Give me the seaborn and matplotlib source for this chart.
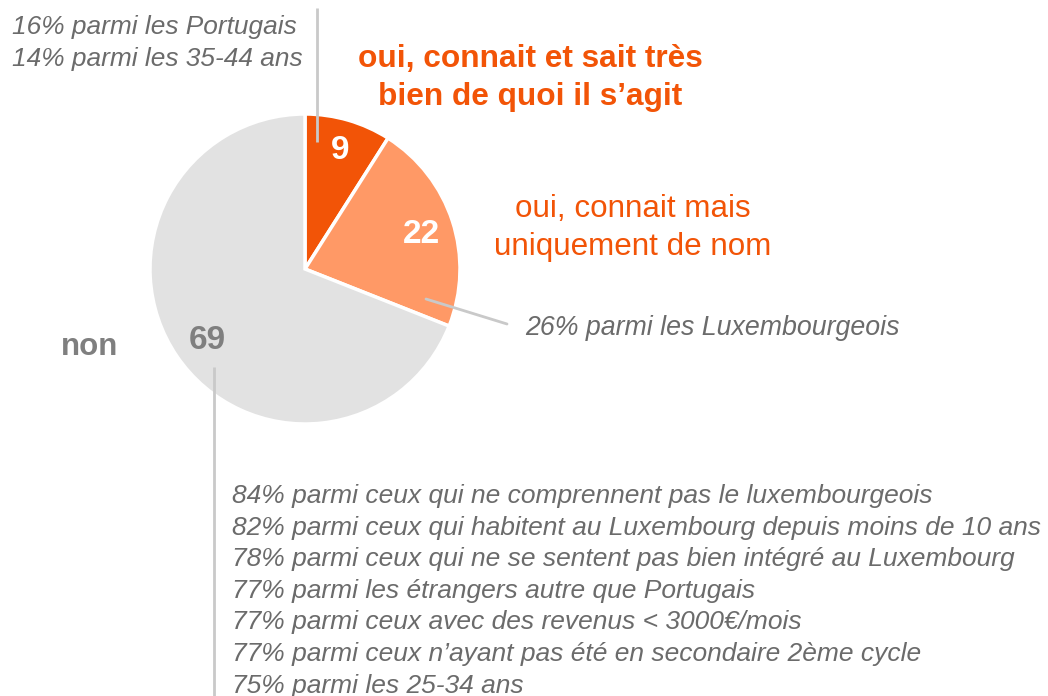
import matplotlib
matplotlib.use("Agg")
import matplotlib.pyplot as plt
import seaborn as sns

sns.set_theme(style="white")
plt.rcParams["font.family"] = ["Liberation Sans", "DejaVu Sans"]

# Survey answers (percent)
categories = ["oui, connait et sait très bien de quoi il s’agit",
              "oui, connait mais uniquement de nom",
              "non"]
values = [9, 22, 69]
colors = ["#F25407", "#FF9966", "#E2E2E2"]
value_colors = ["white", "white", "#7F7F7F"]

notes_top = ["16% parmi les Portugais", "14% parmi les 35-44 ans"]
notes_mid = ["26% parmi les Luxembourgeois"]
notes_non = [
    "84% parmi ceux qui ne comprennent pas le luxembourgeois",
    "82% parmi ceux qui habitent au Luxembourg depuis moins de 10 ans",
    "78% parmi ceux qui ne se sentent pas bien intégré au Luxembourg",
    "77% parmi les étrangers autre que Portugais",
    "77% parmi ceux avec des revenus < 3000€/mois",
    "77% parmi ceux n’ayant pas été en secondaire 2ème cycle",
    "75% parmi les 25-34 ans",
]

W, H = 1048, 696
fig = plt.figure(figsize=(W / 100, H / 100), dpi=100)
ax = fig.add_axes([0, 0, 1, 1])

cx, cy, r = 305, H - 269, 155
wedges, _ = ax.pie(values, colors=colors, startangle=90, counterclock=False,
                   center=(cx, cy), radius=r,
                   wedgeprops=dict(edgecolor="white", linewidth=2.5))
ax.set_xlim(0, W)
ax.set_ylim(0, H)
ax.set_aspect("auto")
ax.axis("off")

# values inside the slices (x centre, baseline)
val_pos = [(340, 159), (422, 243), (207, 349)]
for v, (x, y), c in zip(values, val_pos, value_colors):
    ax.text(x, H - y, str(v), ha="center", va="baseline", fontsize=24,
            fontweight="bold", color=c)

gray_txt = "#6B6B6B"
line_c = "#C9C9C9"
orange = "#F25407"

# category labels
ax.text(530, H - 67, "oui, connait et sait très", ha="center", va="baseline",
        fontsize=22.8, fontweight="bold", color=orange)
ax.text(530, H - 105, "bien de quoi il s’agit", ha="center", va="baseline",
        fontsize=22.8, fontweight="bold", color=orange)
ax.text(633, H - 217, "oui, connait mais", ha="center", va="baseline",
        fontsize=22.6, color=orange)
ax.text(633, H - 255, "uniquement de nom", ha="center", va="baseline",
        fontsize=22.6, color=orange)
ax.text(90, H - 355, "non", ha="center", va="baseline", fontsize=22.5,
        fontweight="bold", color="#7F7F7F")

# sub-group notes and leader lines
ax.plot([317, 317], [H - 8, H - 142], color=line_c, lw=2, solid_capstyle="butt")
for i, t in enumerate(notes_top):
    ax.text(12, H - (34 + i * 32), t, ha="left", va="baseline",
            fontsize=18.9, style="italic", color=gray_txt)

ax.plot([426, 507], [H - 299, H - 324], color=line_c, lw=2)
ax.text(525, H - 335, notes_mid[0], ha="left", va="baseline", fontsize=19.3,
        style="italic", color=gray_txt)

ax.plot([214, 214], [H - 367, 0], color=line_c, lw=2, solid_capstyle="butt")
for i, t in enumerate(notes_non):
    ax.text(232, H - (503 + i * 31.6), t, ha="left", va="baseline",
            fontsize=19.0, style="italic", color=gray_txt)

fig.savefig("out.png", dpi=100)
